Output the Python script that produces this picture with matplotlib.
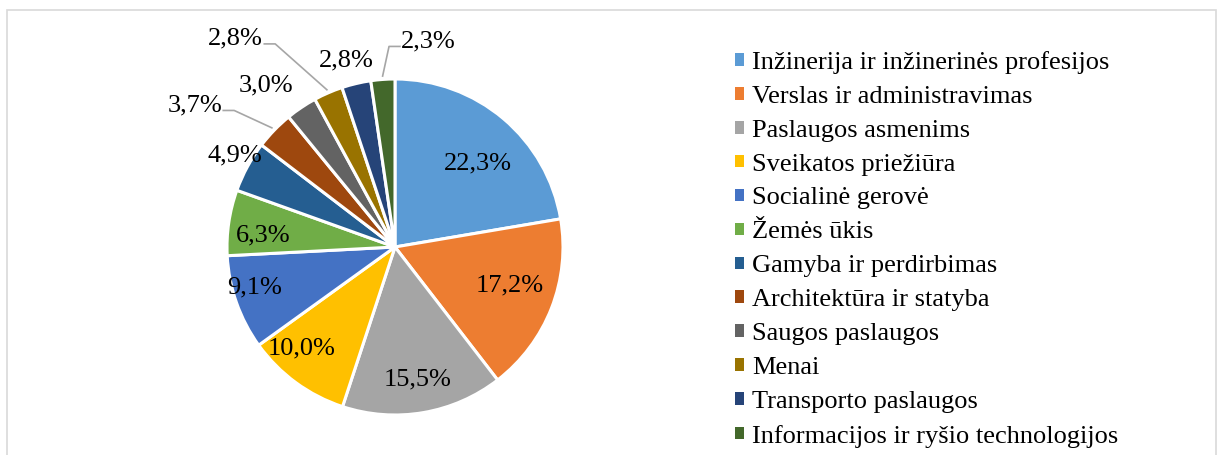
import numpy as np
import matplotlib
matplotlib.use("Agg")
import matplotlib.pyplot as plt
from matplotlib.patches import Rectangle

# ---- data ----
categories = [
    "Inžinerija ir inžinerinės profesijos",
    "Verslas ir administravimas",
    "Paslaugos asmenims",
    "Sveikatos priežiūra",
    "Socialinė gerovė",
    "Žemės ūkis",
    "Gamyba ir perdirbimas",
    "Architektūra ir statyba",
    "Saugos paslaugos",
    "Menai",
    "Transporto paslaugos",
    "Informacijos ir ryšio technologijos",
]
shares = [22.3, 17.2, 15.5, 10.0, 9.1, 6.3, 4.9, 3.7, 3.0, 2.8, 2.8, 2.3]
value_labels = ["22,3%", "17,2%", "15,5%", "10,0%", "9,1%", "6,3%",
                "4,9%", "3,7%", "3,0%", "2,8%", "2,8%", "2,3%"]
colors = ["#5B9BD5", "#ED7D31", "#A5A5A5", "#FFC000", "#4472C4", "#70AD47",
          "#255E91", "#9E480E", "#636363", "#997300", "#264478", "#43682B"]

# ---- layout ----
W, H = 1219, 455
CX, CY, R = 395, 247, 168          # pie centre / radius in pixels
label_r = [0.70, 0.72, 0.80, 0.82, 0.87, 0.79, 1.10, 1.46, 1.23, 1.56, 1.15, 1.24]
label_dang = [-4.6, 2.9, -0.1, -6.4, -3.3, 3.4, -1.3, 8.8, 4.8, 14.0, 1.4, -13.4]
leader = [False] * 7 + [True, False, True, False, True]
FONT = "Liberation Serif"
FS = 19

fig = plt.figure(figsize=(W / 100, H / 100), dpi=100)
ax = fig.add_axes([0, 0, 1, 1])

# chart border
fig.patches.append(Rectangle((7 / W, -0.05), (1216 - 7) / W, 1 - 10 / H + 0.05,
                             transform=fig.transFigure, fill=False,
                             edgecolor="#D9D9D9", linewidth=1.2))

wedges, _ = ax.pie(shares, colors=colors, startangle=90, counterclock=False,
                   radius=1.0, center=(0, 0),
                   wedgeprops=dict(edgecolor="white", linewidth=2.2))
ax.set_aspect("auto")
ax.set_xlim(-CX / R, (W - CX) / R)
ax.set_ylim(-(H - CY) / R, CY / R)
ax.axis("off")

for i, w in enumerate(wedges):
    mid = (w.theta1 + w.theta2) / 2.0
    ang = np.deg2rad(mid + label_dang[i])
    lx, ly = label_r[i] * np.cos(ang), label_r[i] * np.sin(ang)
    ax.text(lx, ly, value_labels[i], ha="center", va="center",
            fontsize=FS, family=FONT, color="black")
    if leader[i]:
        m = np.deg2rad(mid)
        sx, sy = 1.02 * np.cos(m), 1.02 * np.sin(m)
        half_w = 0.16
        yline = ly - 0.03
        if lx < sx - 0.05:
            tx = lx + half_w + 0.01
            ex = tx + 0.065
            ax.plot([tx, ex, sx], [yline, yline, sy], color="#A6A6A6", lw=1.2)
        else:
            tx = lx - half_w - 0.01
            ex = tx - 0.065
            ax.plot([tx, ex, ex, sx], [yline, yline, yline, sy], color="#A6A6A6", lw=1.2)

leg = fig.legend(wedges, categories, loc="upper left",
                 bbox_to_anchor=(735 / W, 1 - 51 / H),
                 frameon=False, borderpad=0, borderaxespad=0,
                 handlelength=0.35, handleheight=0.35, handletextpad=0.3,
                 labelspacing=0.45, prop=dict(family=FONT, size=FS))
for h in leg.legend_handles:
    h.set_edgecolor("none")

fig.savefig("out.png", dpi=100)
